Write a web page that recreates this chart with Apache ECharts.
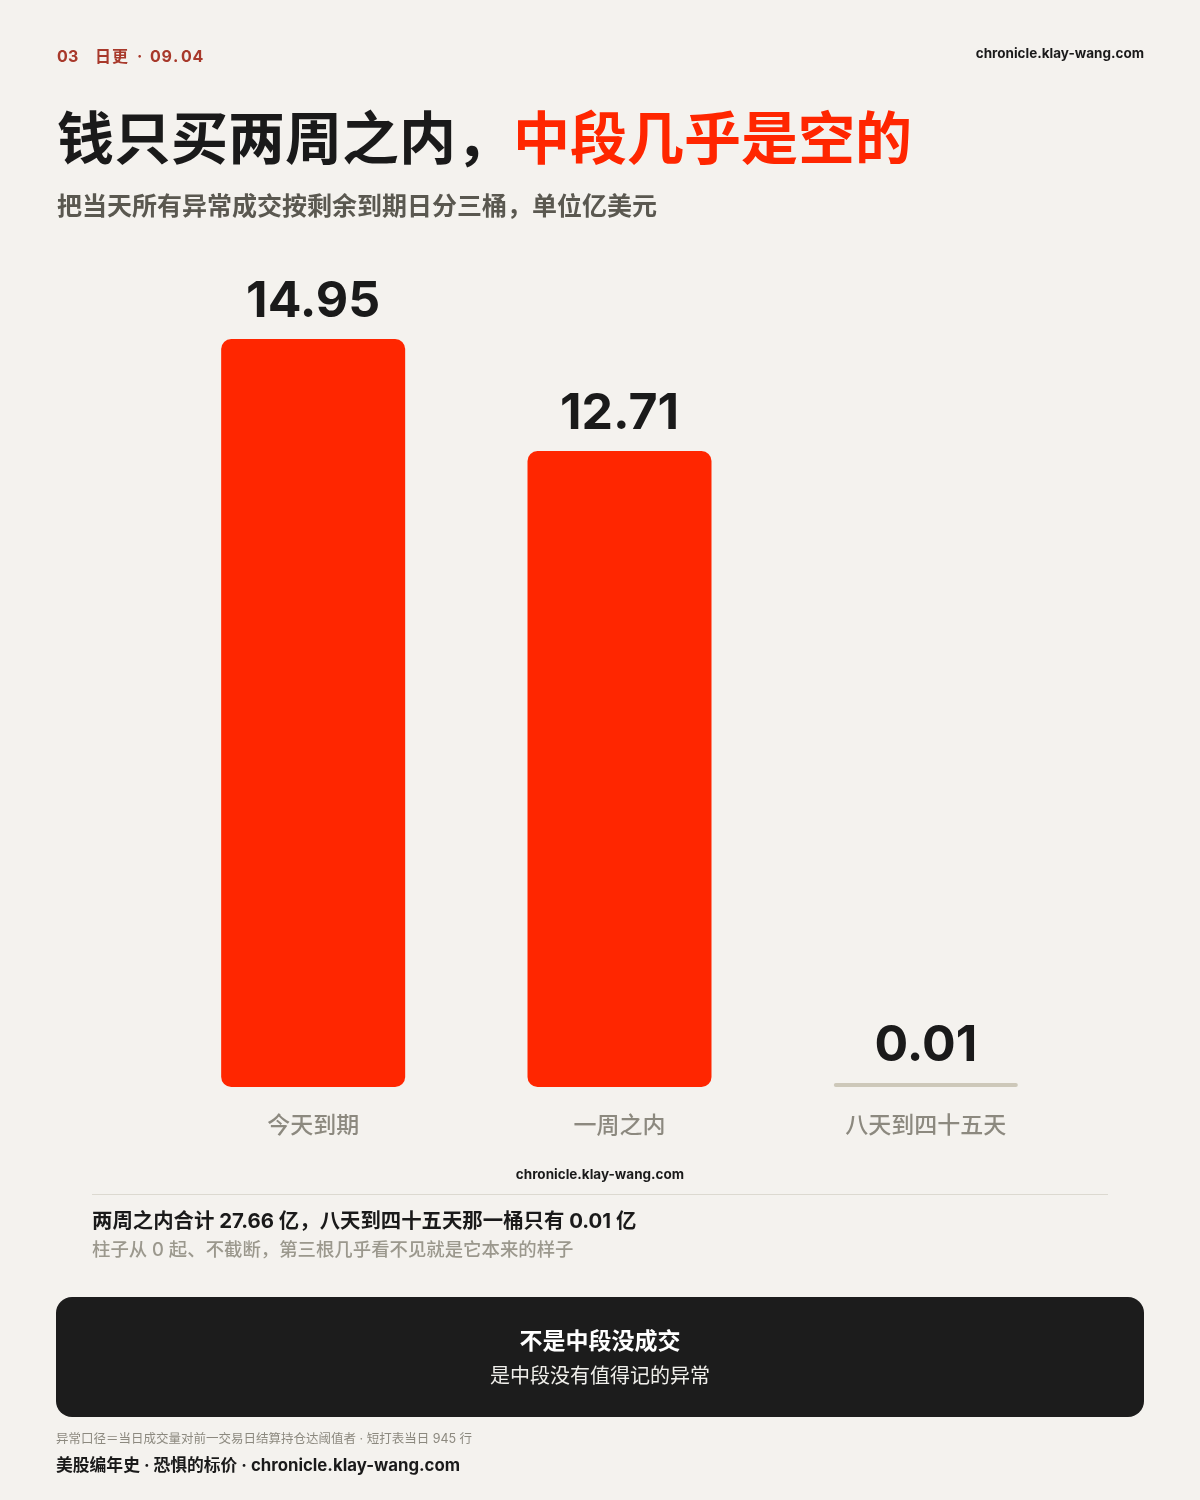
<!DOCTYPE html>
<html>
<head>
<meta charset="utf-8">
<script src="https://cdn.jsdelivr.net/npm/echarts@6/dist/echarts.min.js"></script>
<style>
  html, body { margin: 0; padding: 0; background: #f4f2ee; }
  #chart { width: 1200px; height: 1500px; }
</style>
</head>
<body>
<div id="chart"></div>
<script>
var categories = ['今天到期', '一周之内', '八天到四十五天'];
var values = [14.95, 12.71, 0.01];
var barColors = ['#ff2600', '#ff2600', '#cdc8b9'];

var FONT = 'Inter, "Noto Sans CJK SC", sans-serif';
var CJK = '"Noto Sans CJK SC", Inter, sans-serif';

var chart = echarts.init(document.getElementById('chart'), null, { renderer: 'canvas' });

var seriesData = values.map(function (v, i) {
  return {
    value: v,
    itemStyle: { color: barColors[i], borderRadius: i === 2 ? 2 : 10 }
  };
});

// header with letter spacing, drawn piece by piece
var headerPieces = [
  { t: '0', x: 57 }, { t: '3', x: 68 },
  { t: '日', x: 95 }, { t: '更', x: 112 },
  { t: '·', x: 137 },
  { t: '0', x: 150 }, { t: '9', x: 161.5 }, { t: '.', x: 173 }, { t: '0', x: 181 }, { t: '4', x: 192.5 }
];
var headerGraphics = headerPieces.map(function (p) {
  return { type: 'text', left: p.x, top: 49, style: { text: p.t, fill: '#a8392b', font: '700 16px ' + FONT } };
});

var option = {
  backgroundColor: '#f4f2ee',
  animation: false,
  grid: { left: 160, right: 121, top: 339, bottom: 413 },
  xAxis: {
    type: 'category',
    data: categories,
    axisLine: { show: false },
    axisTick: { show: false },
    axisLabel: {
      color: '#8c897f',
      fontSize: 23,
      fontWeight: 500,
      fontFamily: CJK,
      margin: 26
    }
  },
  yAxis: {
    type: 'value',
    min: 0,
    max: 14.95,
    show: false,
    splitLine: { show: false }
  },
  series: [{
    type: 'bar',
    data: seriesData,
    barWidth: 184,
    barMinHeight: 4,
    label: {
      show: true,
      position: 'top',
      distance: 12,
      color: '#1a1a1a',
      fontSize: 50,
      fontWeight: 700,
      fontFamily: FONT,
      formatter: function (p) { return p.value.toFixed(2); }
    }
  }],
  graphic: headerGraphics.concat([
    { type: 'text', right: 56, top: 47, style: { text: 'chronicle.klay-wang.com', fill: '#1a1a1a', font: '700 13.5px ' + FONT } },
    { type: 'text', left: 57, top: 109, style: { rich: {
        a: { fill: '#1a1a1a', font: '700 57px ' + CJK },
        b: { fill: '#ff2600', font: '700 57px ' + CJK }
      }, text: '{a|钱只买两周之内，}{b|中段几乎是空的}' } },
    { type: 'text', left: 57, top: 193, style: { text: '把当天所有异常成交按剩余到期日分三桶，单位亿美元', fill: '#5a5850', font: '700 25px ' + CJK } },
    { type: 'text', left: 'center', top: 1168, style: { text: 'chronicle.klay-wang.com', fill: '#1a1a1a', font: '700 13.5px ' + FONT } },
    { type: 'rect', shape: { x: 92, y: 1194, width: 1016, height: 1 }, style: { fill: '#dcd9d0' } },
    { type: 'text', left: 92, top: 1212, style: { text: '两周之内合计 27.66 亿，八天到四十五天那一桶只有 0.01 亿', fill: '#1a1a1a', font: '700 20.4px ' + FONT } },
    { type: 'text', left: 92, top: 1241, style: { text: '柱子从 0 起、不截断，第三根几乎看不见就是它本来的样子', fill: '#9b988d', font: '500 18.4px ' + FONT } },
    { type: 'rect', shape: { x: 56, y: 1297, width: 1088, height: 120, r: 16 }, style: { fill: '#1c1c1c' } },
    { type: 'text', left: 'center', top: 1329, style: { text: '不是中段没成交', fill: '#ffffff', font: '700 23px ' + CJK } },
    { type: 'text', left: 'center', top: 1365, style: { text: '是中段没有值得记的异常', fill: '#f0efeb', font: '400 20px ' + CJK } },
    { type: 'text', left: 56, top: 1433, style: { text: '异常口径＝当日成交量对前一交易日结算持仓达阈值者 · 短打表当日 945 行', fill: '#8c897f', font: '400 12.5px ' + FONT } },
    { type: 'text', left: 56, top: 1458, style: { text: '美股编年史 · 恐惧的标价 · chronicle.klay-wang.com', fill: '#1a1a1a', font: '700 16.8px ' + FONT } }
  ])
};

chart.setOption(option);
</script>
</body>
</html>
